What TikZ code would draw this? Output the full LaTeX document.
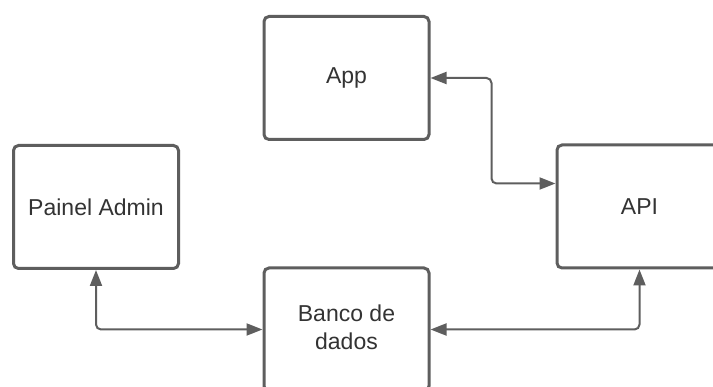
\documentclass[tikz,border=0pt]{standalone}
\usepackage{fontspec}
\setmainfont{Liberation Sans}
\usetikzlibrary{arrows.meta}
\definecolor{edge}{HTML}{5E5E5E}
\definecolor{ink}{HTML}{333333}
\tikzset{
  block/.style={draw=edge, line width=3pt, rounded corners=5pt, fill=white,
    minimum width=165pt, minimum height=123pt, inner sep=0pt,
    text=ink, font=\fontsize{23}{28}\selectfont, align=center},
  conn/.style={draw=edge, line width=2pt, rounded corners=5pt,
    {Triangle[length=16pt,width=12pt]}-{Triangle[length=16pt,width=12pt]}}
}
\begin{document}
\begin{tikzpicture}[x=1pt,y=-1pt]
  \clip (0,0) rectangle (713,387);
  \fill[white] (0,0) rectangle (713,387);

  \node[block] (app)   at (346.5,78)   {App};
  \node[block] (admin) at (96,207)     {Painel Admin};
  \node[block] (api)   at (639.5,206.5){API};
  \node[block] (db)    at (346.5,329.5){\raisebox{3pt}{\begin{tabular}{@{}c@{}}Banco de\\dados\end{tabular}}};

  \draw[conn] (app.east) -- ++(61,0) |- ([yshift=23pt]api.west);
  \draw[conn] (admin.south) |- (db.west);
  \draw[conn] (db.east) -| (api.south);
\end{tikzpicture}
\end{document}
